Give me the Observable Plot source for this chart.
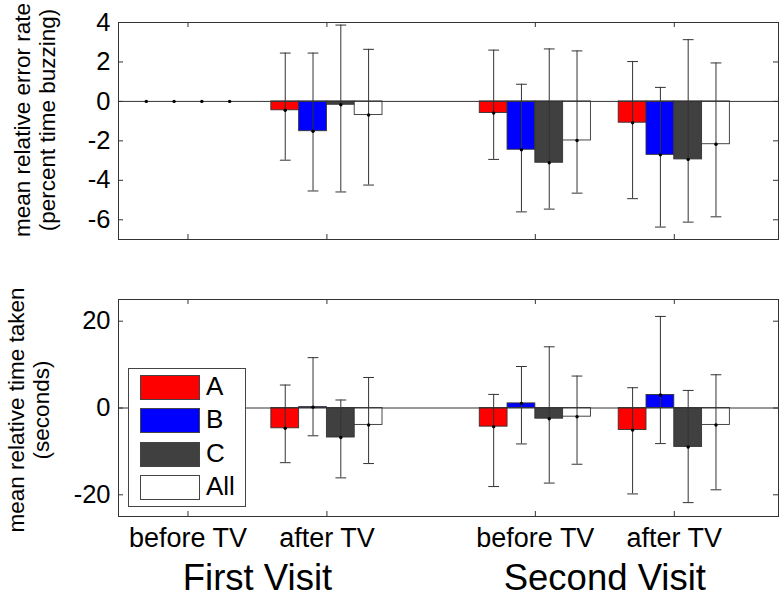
<!DOCTYPE html>
<html><head><meta charset="utf-8">
<script src="https://cdn.jsdelivr.net/npm/d3@7"></script>
<script src="https://cdn.jsdelivr.net/npm/@observablehq/plot@0.6"></script>
<style>
body{margin:0;background:#fff;font-family:"Liberation Sans",Arial,sans-serif;}
#wrap{position:relative;width:784px;height:598px;overflow:hidden;}
#top{position:absolute;left:0;top:0;}
#bottom{position:absolute;left:0;top:250px;}
#legend{position:absolute;left:128px;top:368px;width:116px;height:137px;border:1px solid #444;background:#fff;}
.row{position:absolute;left:11px;height:24px;}
.sw{position:absolute;left:0;top:0;width:58px;height:23px;border:1px solid #444;}
.lb{position:absolute;left:66px;top:-4px;font-size:26px;line-height:30px;color:#000;}
</style></head><body>
<div id="wrap"><div id="top"></div><div id="bottom"></div><div id="legend"></div></div>
<script>
// ---- data ----
const series = ["A", "B", "C", "All"];
const seriesColors = ["#ff0000", "#0000ff", "#404040", "#ffffff"];
const conditions = ["before TV", "after TV", "before TV", "after TV"];
const conditionPositions = [1, 2, 3.5, 4.5];
const visits = ["First Visit", "Second Visit"];
const errorTicks = [-6, -4, -2, 0, 2, 4];
const timeTicks = [-20, 0, 20];
const errorLabel = "mean relative error rate\n(percent time buzzing)";
const timeLabel = "mean relative time taken\n(seconds)";

// error rate (percent time buzzing): rows = series A,B,C,All; cols = conditions
const errorMean = [
  [0, -0.45, -0.59, -1.08],
  [0, -1.51, -2.45, -2.71],
  [0, -0.17, -3.11, -2.94],
  [0, -0.69, -1.98, -2.17]
];
const errorLow = [
  [0, -2.98, -2.94, -4.93],
  [0, -4.54, -5.60, -6.37],
  [0, -4.59, -5.46, -6.12],
  [0, -4.24, -4.65, -5.85]
];
const errorHigh = [
  [0, 2.45, 2.60, 2.02],
  [0, 2.45, 0.87, 0.71],
  [0, 3.87, 2.66, 3.13],
  [0, 2.64, 2.56, 1.95]
];
// time taken (seconds)
const timeMean = [
  [0, -4.68, -4.30, -5.06],
  [0, 0.20, 1.06, 2.99],
  [0, -6.80, -2.46, -8.97],
  [0, -3.90, -2.00, -3.90]
];
const timeLow = [
  [0, -12.6, -18.1, -19.8],
  [0, -6.4, -8.28, -8.2],
  [0, -16.1, -17.3, -21.8],
  [0, -12.8, -12.96, -18.85]
];
const timeHigh = [
  [0, 5.29, 3.13, 4.67],
  [0, 11.6, 9.56, 21.1],
  [0, 1.84, 14.1, 4.05],
  [0, 7.03, 7.36, 7.66]
];

// ---- layout ----
const W = 784, mL = 118, mR = 6;
const xDomain = [0.5, 5.25];
const offsets = [-0.3, -0.1, 0.1, 0.3];
const halfBar = 0.1;
const plotW = W - mL - mR;

function buildRows(mean, low, high) {
  const rows = [];
  series.forEach((s, i) => conditionPositions.forEach((p, j) => {
    rows.push({series: s, x: p + offsets[i], mean: mean[i][j], lo: low[i][j], hi: high[i][j]});
  }));
  return rows;
}

const cap = {draw(ctx) { ctx.moveTo(-5, 0); ctx.lineTo(5, 0); }};

function panel({rows, yDomain, ticks, label, height, mT, mB, labelDx, labelDy, extra = []}) {
  const plotH = height - mT - mB;
  const bars = rows.filter(d => d.hi !== d.lo);
  return Plot.plot({
    width: W, height, marginLeft: mL, marginRight: mR, marginTop: mT, marginBottom: mB,
    style: {fontFamily: "Liberation Sans, Arial, sans-serif", background: "transparent", overflow: "visible"},
    x: {domain: xDomain, axis: null},
    y: {domain: yDomain, axis: null},
    color: {domain: series, range: seriesColors},
    marks: [
      Plot.rect(rows, {x1: d => d.x - halfBar, x2: d => d.x + halfBar, y1: d => 0, y2: "mean", fill: "series", stroke: "#333", strokeWidth: 0.9}),
      Plot.ruleY([0], {stroke: "#333", strokeWidth: 1}),
      Plot.ruleX(bars, {x: "x", y1: "lo", y2: "hi", stroke: "#333", strokeWidth: 1}),
      Plot.vector(bars, {x: "x", y: "lo", shape: cap, anchor: "start", stroke: "#333", strokeWidth: 1}),
      Plot.vector(bars, {x: "x", y: "hi", shape: cap, anchor: "start", stroke: "#333", strokeWidth: 1}),
      Plot.dot(rows, {x: "x", y: "mean", r: 1.7, fill: "#000"}),
      Plot.frame({stroke: "#333", strokeWidth: 1}),
      Plot.tickY(ticks, {y: d => d, insetRight: plotW - 5, stroke: "#333"}),
      Plot.tickY(ticks, {y: d => d, insetLeft: plotW - 5, stroke: "#333"}),
      Plot.tickX(conditionPositions, {x: d => d, insetBottom: plotH - 5, stroke: "#333"}),
      Plot.tickX(conditionPositions, {x: d => d, insetTop: plotH - 5, stroke: "#333"}),
      Plot.axisY(ticks, {anchor: "left", tickSize: 0, tickPadding: 8, fontSize: 25.5, label: null, tickFormat: d => String(d), fill: "#000"}),
      Plot.text([label], {text: d => d, frameAnchor: "left", textAnchor: "middle", lineAnchor: "middle", rotate: -90, dx: labelDx, dy: labelDy, fontSize: 22.5, lineHeight: 1.1, fill: "#000"}),
      ...extra
    ]
  });
}

const topRows = buildRows(errorMean, errorLow, errorHigh);
const botRows = buildRows(timeMean, timeLow, timeHigh);

const visitCenters = [
  (conditionPositions[0] + conditionPositions[1]) / 2,
  (conditionPositions[2] + conditionPositions[3]) / 2
];

document.getElementById("top").append(panel({
  rows: topRows, yDomain: [-7, 4], ticks: errorTicks, label: errorLabel,
  height: 250, mT: 22, mB: 11, labelDx: -84, labelDy: -11
}));

document.getElementById("bottom").append(panel({
  rows: botRows, yDomain: [-25, 25], ticks: timeTicks, label: timeLabel,
  height: 348, mT: 49, mB: 82, labelDx: -90, labelDy: 2,
  extra: [
    Plot.text(conditionPositions, {x: d => d, text: (d, i) => conditions[i], frameAnchor: "bottom", lineAnchor: "top", dy: 11, fontSize: 27, fill: "#000"}),
    Plot.text(visitCenters, {x: d => d, text: (d, i) => visits[i], frameAnchor: "bottom", lineAnchor: "top", dy: 48, fontSize: 36.5, fill: "#000"})
  ]
}));

const legend = document.getElementById("legend");
series.forEach((s, i) => {
  const row = document.createElement("div");
  row.className = "row";
  row.style.top = (6 + i * 33.3) + "px";
  const sw = document.createElement("div");
  sw.className = "sw";
  sw.style.background = seriesColors[i];
  const lb = document.createElement("div");
  lb.className = "lb";
  lb.textContent = s;
  row.append(sw, lb);
  legend.append(row);
});
</script>
</body></html>
